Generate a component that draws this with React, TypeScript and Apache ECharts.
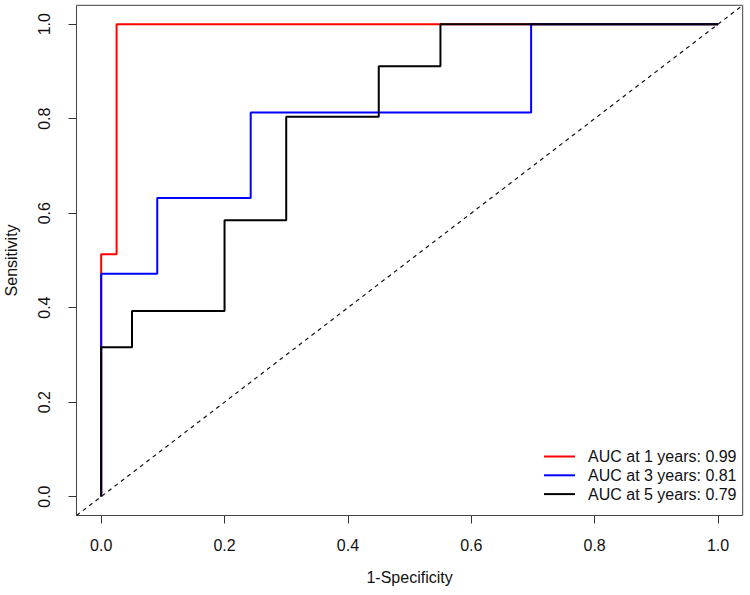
import React, { useEffect, useRef } from "react";
import * as echarts from "echarts";

const tickValues = [0, 0.2, 0.4, 0.6, 0.8, 1.0];

const seriesNames = [
  "AUC at 1 years: 0.99",
  "AUC at 3 years: 0.81",
  "AUC at 5 years: 0.79",
];
const seriesColors = ["#FF0000", "#0000FF", "#000000"];

// 1-Specificity (x) and Sensitivity (y) step points
const fpr1 = [0, 0, 0.025, 0.025, 1];
const tpr1 = [0, 0.513, 0.513, 1, 1];

const fpr3 = [0, 0, 0.0909, 0.0909, 0.2424, 0.2424, 0.697, 0.697, 1];
const tpr3 = [0, 0.472, 0.472, 0.632, 0.632, 0.813, 0.813, 1, 1];

const fpr5 = [0, 0, 0.05, 0.05, 0.2, 0.2, 0.3, 0.3, 0.45, 0.45, 0.55, 0.55, 1];
const tpr5 = [0, 0.316, 0.316, 0.393, 0.393, 0.585, 0.585, 0.804, 0.804, 0.911, 0.911, 1, 1];

const axisMin = -0.04;
const axisMax = 1.04;

const curves = [
  { x: fpr1, y: tpr1 },
  { x: fpr3, y: tpr3 },
  { x: fpr5, y: tpr5 },
];

const FONT = "Liberation Sans, Arial, Helvetica, sans-serif";

export default function App() {
  const ref = useRef<HTMLDivElement>(null);

  useEffect(() => {
    document.body.style.margin = "0";
    if (!ref.current) return;
    const chart = echarts.init(ref.current, null, { renderer: "svg" });

    const curveSeries = curves.map((c, i) => ({
      name: seriesNames[i],
      type: "line",
      data: c.x.map((xv, j) => [xv, c.y[j]]),
      symbol: "none",
      lineStyle: { color: seriesColors[i], width: 2 },
      itemStyle: { color: seriesColors[i] },
      z: 3 + i,
    }));

    const axisCommon = {
      type: "value",
      min: axisMin,
      max: axisMax,
      splitLine: { show: false },
      axisLine: { show: false, onZero: false },
      axisTick: {
        show: true,
        length: 8,
        inside: false,
        customValues: tickValues,
        lineStyle: { color: "#333", width: 1 },
      },
      axisLabel: {
        show: true,
        customValues: tickValues,
        formatter: (v: number) => v.toFixed(1),
        color: "#111",
        fontSize: 16,
        fontFamily: FONT,
      },
      nameLocation: "middle",
      nameTextStyle: { color: "#111", fontSize: 16, fontFamily: FONT },
    };

    chart.setOption({
      animation: false,
      backgroundColor: "#ffffff",
      grid: {
        left: 76.5,
        right: 7.3,
        top: 5.3,
        bottom: 79.5,
        containLabel: false,
        outerBoundsMode: "none",
        show: true,
        borderColor: "#444",
        borderWidth: 1,
        backgroundColor: "transparent",
      },
      xAxis: {
        ...axisCommon,
        name: "1-Specificity",
        nameGap: 54,
        axisLabel: { ...axisCommon.axisLabel, margin: 22 },
      },
      yAxis: {
        ...axisCommon,
        name: "Sensitivity",
        nameGap: 57,
        axisLabel: { ...axisCommon.axisLabel, margin: 24, rotate: 90 },
      },
      legend: {
        data: seriesNames,
        orient: "vertical",
        left: 543,
        top: 448.5,
        itemWidth: 31,
        itemHeight: 16,
        itemGap: 2.8,
        itemStyle: { opacity: 0 },
        textStyle: {
          color: "#111",
          fontSize: 16,
          fontFamily: FONT,
          padding: [0, 0, 0, 8],
        },
        selectedMode: false,
        padding: 0,
      },
      series: [
        {
          name: "diag",
          type: "line",
          data: [
            [axisMin, axisMin],
            [axisMax, axisMax],
          ],
          symbol: "none",
          lineStyle: { color: "#111", width: 1.2, type: [4, 4] },
          z: 2,
        },
        ...curveSeries,
      ],
    });

    return () => chart.dispose();
  }, []);

  return <div ref={ref} style={{ width: 750, height: 595 }} />;
}
